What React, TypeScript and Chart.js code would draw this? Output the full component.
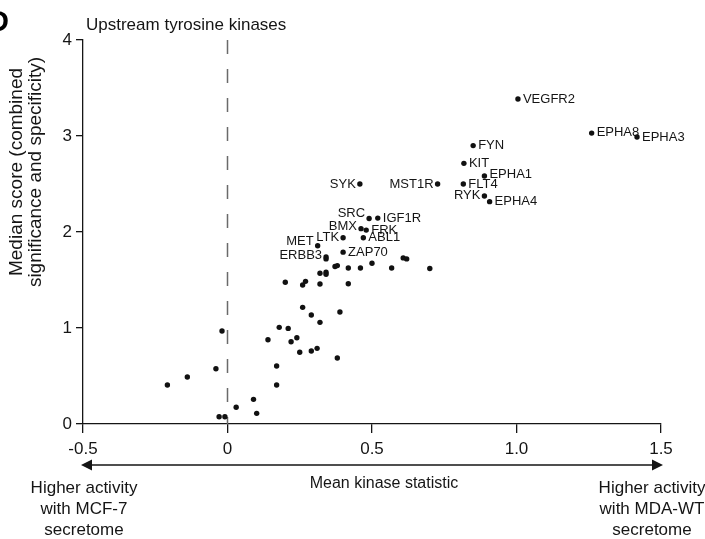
import React, { useEffect, useRef } from 'react';
import { Chart, registerables } from 'chart.js';

Chart.register(...registerables);

const FONT = '"Liberation Sans", Arial, Helvetica, sans-serif';

// Labelled kinases
const labeledNames = ['VEGFR2', 'EPHA8', 'EPHA3', 'FYN', 'KIT', 'EPHA1', 'FLT4', 'MST1R', 'RYK', 'EPHA4', 'SYK', 'SRC', 'IGF1R', 'BMX', 'FRK', 'LTK', 'ABL1', 'MET', 'ERBB3', 'ZAP70'];
const labeledX = [1.005, 1.26, 1.417, 0.85, 0.818, 0.889, 0.816, 0.727, 0.889, 0.907, 0.458, 0.49, 0.52, 0.462, 0.48, 0.4, 0.47, 0.312, 0.341, 0.4];
const labeledY = [3.385, 3.03, 2.99, 2.9, 2.715, 2.583, 2.5, 2.5, 2.375, 2.316, 2.5, 2.14, 2.145, 2.035, 2.02, 1.94, 1.94, 1.857, 1.74, 1.79];

// Unlabelled kinases
const otherX = [0.341, 0.608, 0.62, 0.372, 0.38, 0.418, 0.46, 0.5, 0.568, 0.7, 0.32, 0.341, 0.341, 0.2, 0.26, 0.27, 0.32, 0.418, 0.26, 0.29, 0.389, 0.32, 0.179, 0.21, 0.14, 0.24, 0.22, 0.25, 0.29, 0.31, 0.38, -0.019, -0.04, -0.139, -0.208, 0.17, 0.17, 0.09, 0.03, 0.101, -0.029, -0.009];
const otherY = [1.72, 1.73, 1.72, 1.64, 1.65, 1.625, 1.625, 1.674, 1.625, 1.62, 1.57, 1.58, 1.56, 1.476, 1.448, 1.486, 1.458, 1.461, 1.215, 1.135, 1.167, 1.059, 1.007, 0.996, 0.878, 0.899, 0.857, 0.747, 0.76, 0.788, 0.688, 0.969, 0.576, 0.49, 0.406, 0.604, 0.406, 0.257, 0.174, 0.111, 0.076, 0.076];

const xTicks = [-0.5, 0, 0.5, 1.0, 1.5];
const xTickLabels = ['-0.5', '0', '0.5', '1.0', '1.5'];
const yTicks = [0, 1, 2, 3, 4];
const yTickLabels = ['0', '1', '2', '3', '4'];

const panelLetter = 'D';
const chartTitle = 'Upstream tyrosine kinases';
const yTitleLines = ['Median score (combined', 'significance and specificity)'];
const xTitle = 'Mean kinase statistic';
const leftNote = ['Higher activity', 'with MCF-7', 'secretome'];
const rightNote = ['Higher activity', 'with MDA-WT', 'secretome'];

// label placement (style only)
const labelPlacement: Record<string, [string, number]> = {
  VEGFR2: ['r', 0], EPHA8: ['r', -1], EPHA3: ['r', 0], FYN: ['r', 0], KIT: ['r', 0],
  EPHA1: ['r', -2], FLT4: ['r', 0], MST1R: ['l', 0], RYK: ['l', -1], EPHA4: ['r', 0],
  SYK: ['l', 0], SRC: ['l', -5], IGF1R: ['r', 0], BMX: ['l', -2], FRK: ['r', 0],
  LTK: ['l', 0], ABL1: ['r', 0], MET: ['l', -4], ERBB3: ['l', -2], ZAP70: ['r', 0],
};

const annotPlugin = {
  id: 'annot',
  beforeDatasetsDraw(chart: any) {
    const { ctx, scales } = chart;
    const xs = scales.x, ys = scales.y;
    const px = xs.getPixelForValue(0);
    ctx.save();
    ctx.strokeStyle = '#6a6a6a';
    ctx.lineWidth = 1.5;
    ctx.setLineDash([14, 15]);
    ctx.beginPath();
    ctx.moveTo(px, ys.getPixelForValue(4));
    ctx.lineTo(px, ys.getPixelForValue(0));
    ctx.stroke();
    ctx.restore();
  },
  afterDraw(chart: any) {
    const { ctx, scales } = chart;
    const xs = scales.x, ys = scales.y;
    ctx.save();
    ctx.fillStyle = '#151515';

    // point labels
    ctx.font = `13px ${FONT}`;
    ctx.textBaseline = 'middle';
    labeledNames.forEach((name, i) => {
      const px = xs.getPixelForValue(labeledX[i]);
      const py = ys.getPixelForValue(labeledY[i]);
      const [side, dy] = labelPlacement[name] || ['r', 0];
      if (side === 'r') {
        ctx.textAlign = 'left';
        ctx.fillText(name, px + 5, py + dy);
      } else {
        ctx.textAlign = 'right';
        ctx.fillText(name, px - 4, py + dy);
      }
    });

    // panel letter
    ctx.font = `bold 29px ${FONT}`;
    ctx.textAlign = 'left';
    ctx.textBaseline = 'alphabetic';
    ctx.fillStyle = '#000';
    ctx.fillText(panelLetter, -12, 31);

    // title
    ctx.fillStyle = '#151515';
    ctx.font = `17px ${FONT}`;
    ctx.fillText(chartTitle, 86, 30);

    // y title
    ctx.save();
    ctx.translate(17, 172);
    ctx.rotate(-Math.PI / 2);
    ctx.font = `19px ${FONT}`;
    ctx.textAlign = 'center';
    ctx.textBaseline = 'middle';
    yTitleLines.forEach((t, i) => ctx.fillText(t, 0, i * 19));
    ctx.restore();

    // arrow
    const ay = 465;
    const lx = xs.left - 2;
    const rx = xs.right + 2;
    ctx.strokeStyle = '#151515';
    ctx.lineWidth = 1.5;
    ctx.beginPath();
    ctx.moveTo(lx + 6, ay);
    ctx.lineTo(rx - 6, ay);
    ctx.stroke();
    ctx.beginPath();
    ctx.moveTo(lx, ay);
    ctx.lineTo(lx + 11, ay - 5.5);
    ctx.lineTo(lx + 11, ay + 5.5);
    ctx.closePath();
    ctx.fill();
    ctx.beginPath();
    ctx.moveTo(rx, ay);
    ctx.lineTo(rx - 11, ay - 5.5);
    ctx.lineTo(rx - 11, ay + 5.5);
    ctx.closePath();
    ctx.fill();

    // x title and notes
    ctx.textAlign = 'center';
    ctx.textBaseline = 'middle';
    ctx.font = `16px ${FONT}`;
    ctx.fillText(xTitle, (xs.left + xs.right) / 2 + 12, 484);
    ctx.font = `17px ${FONT}`;
    leftNote.forEach((t, i) => ctx.fillText(t, 84, 488 + i * 21));
    rightNote.forEach((t, i) => ctx.fillText(t, 652, 488 + i * 21));

    ctx.restore();
  },
};

export default function App() {
  const ref = useRef<HTMLCanvasElement>(null);
  useEffect(() => {
    if (!ref.current) return;
    const chart = new Chart(ref.current, {
      type: 'scatter',
      data: {
        datasets: [
          {
            data: labeledX.map((x, i) => ({ x, y: labeledY[i] })),
            backgroundColor: '#111',
            borderWidth: 0,
            pointRadius: 2.7,
          },
          {
            data: otherX.map((x, i) => ({ x, y: otherY[i] })),
            backgroundColor: '#111',
            borderWidth: 0,
            pointRadius: 2.7,
          },
        ],
      },
      options: {
        animation: false,
        responsive: false,
        devicePixelRatio: 1,
        layout: { padding: { left: 0, top: 40, right: 44, bottom: 0 } },
        plugins: { legend: { display: false }, tooltip: { enabled: false } },
        scales: {
          x: {
            type: 'linear',
            min: -0.5,
            max: 1.5,
            afterBuildTicks: (s: any) => { s.ticks = xTicks.map((v) => ({ value: v })); },
            afterFit: (s: any) => { s.height = 115; },
            ticks: {
              callback: (_v: any, i: number) => xTickLabels[i],
              font: { family: FONT, size: 17 },
              color: '#151515',
              padding: 6,
              maxRotation: 0,
              autoSkip: false,
            },
            grid: { display: true, drawOnChartArea: false, drawTicks: true, tickLength: 9, color: '#151515', lineWidth: 1.3 },
            border: { display: true, color: '#151515', width: 1.3 },
          },
          y: {
            type: 'linear',
            min: 0,
            max: 4,
            afterBuildTicks: (s: any) => { s.ticks = yTicks.map((v) => ({ value: v })); },
            afterFit: (s: any) => { s.width = 83; },
            ticks: {
              callback: (_v: any, i: number) => yTickLabels[i],
              font: { family: FONT, size: 17 },
              color: '#151515',
              padding: 4,
              autoSkip: false,
            },
            grid: { display: true, drawOnChartArea: false, drawTicks: true, tickLength: 7, color: '#151515', lineWidth: 1.3 },
            border: { display: true, color: '#151515', width: 1.3 },
          },
        },
      },
      plugins: [annotPlugin],
    } as any);
    return () => chart.destroy();
  }, []);
  return (
    <div style={{ position: 'absolute', left: 0, top: 0, width: 705, height: 539, background: '#fff' }}>
      <canvas ref={ref} width={705} height={539} style={{ display: 'block', width: 705, height: 539 }} />
    </div>
  );
}
